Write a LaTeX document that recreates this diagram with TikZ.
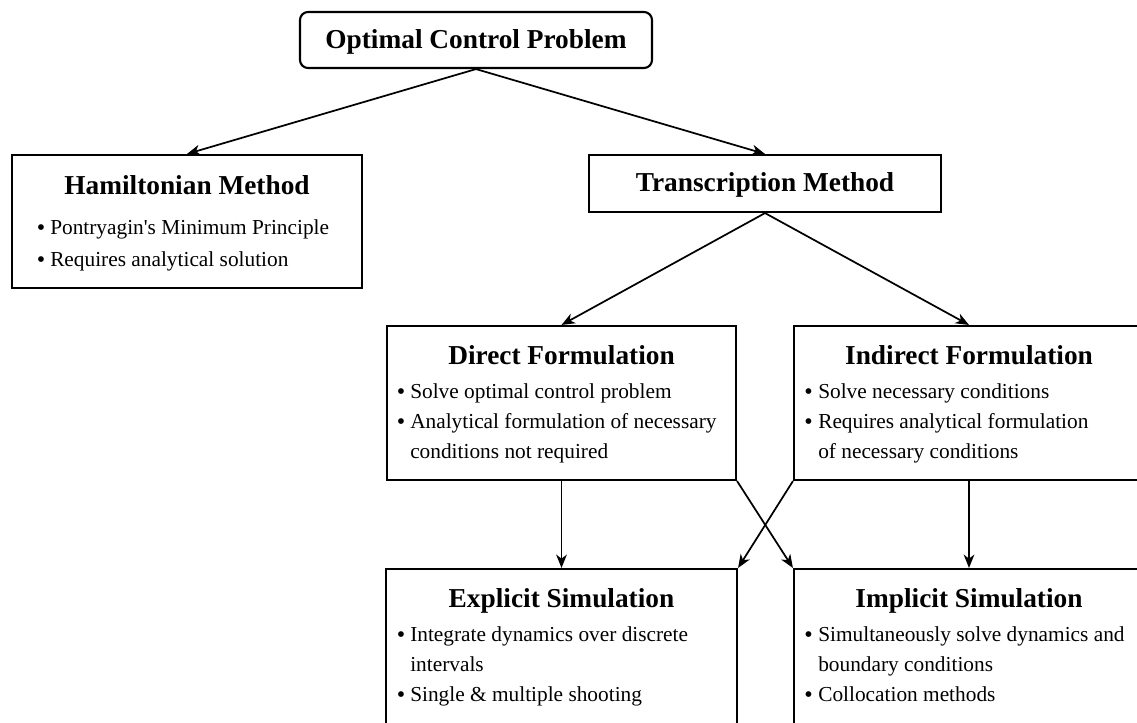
\documentclass[tikz,border=0pt]{standalone}
\usepackage{fontspec}
\setmainfont{Liberation Serif}[Ligatures=TeXOff]
\usetikzlibrary{arrows.meta,fit}
\tikzset{
  box/.style={draw, line width=1.6pt, inner sep=0pt},
  roundbox/.style={box, rounded corners=6pt},
  title/.style={font=\fontsize{20.5}{24}\selectfont\bfseries, inner sep=0pt, anchor=base},
  itemtext/.style={font=\fontsize{16}{20}\selectfont, inner sep=0pt, anchor=base west},
  dot/.style={font=\fontsize{18}{20}\selectfont, inner sep=0pt, anchor=base},
  link/.style={line width=1.3pt, -{Stealth[length=10pt,width=8pt,inset=3pt]}},
}
\begin{document}
\begin{tikzpicture}[x=0.75pt, y=-0.75pt]
\useasboundingbox[fill=white] (0,0) rectangle (1137,722);
\clip (0,0) rectangle (1137,722);

% root problem
\node[roundbox, fit={(300,12) (652,68)}] (ocp) {};
\node[title] (ocp-t) at (476,48) {Optimal Control Problem};

% Hamiltonian branch
\node[box, fit={(12,155) (362,288)}] (ham) {};
\node[title] (ham-t) at (187,194) {Hamiltonian Method};
\node[dot] (ham-b1) at (41,235) {\textbullet};
\node[itemtext] (ham-i1) at (50,234) {Pontryagin's Minimum Principle};
\node[dot] (ham-b2) at (41,267) {\textbullet};
\node[itemtext] (ham-i2) at (50,266) {Requires analytical solution};

% transcription branch
\node[box, fit={(589,155) (941,212)}] (trans) {};
\node[title] (trans-t) at (765,191) {Transcription Method};

% direct formulation
\node[box, fit={(387,326) (736,480)}] (dir) {};
\node[title] (dir-t) at (561.5,364) {Direct Formulation};
\node[dot] (dir-b1) at (401,399) {\textbullet};
\node[itemtext] (dir-i1) at (410,398) {Solve optimal control problem};
\node[dot] (dir-b2) at (401,429) {\textbullet};
\node[itemtext] (dir-i2) at (410,428) {Analytical formulation of necessary};
\node[itemtext] (dir-i3) at (410,458) {conditions not required};

% indirect formulation
\node[box, fit={(794,326) (1144,480)}] (ind) {};
\node[title] (ind-t) at (969,364) {Indirect Formulation};
\node[dot] (ind-b1) at (808.5,399) {\textbullet};
\node[itemtext] (ind-i1) at (818,398) {Solve necessary conditions};
\node[dot] (ind-b2) at (808.5,429) {\textbullet};
\node[itemtext] (ind-i2) at (818,428) {Requires analytical formulation};
\node[itemtext] (ind-i3) at (818,458) {of necessary conditions};

% explicit simulation
\node[box, fit={(386,569) (737,724)}] (exp) {};
\node[title] (exp-t) at (561.5,607) {Explicit Simulation};
\node[dot] (exp-b1) at (401,642) {\textbullet};
\node[itemtext] (exp-i1) at (410,641) {Integrate dynamics over discrete};
\node[itemtext] (exp-i2) at (410,671) {intervals};
\node[dot] (exp-b2) at (401,702) {\textbullet};
\node[itemtext] (exp-i3) at (410,701) {Single \& multiple shooting};

% implicit simulation
\node[box, fit={(794,569) (1144,724)}] (imp) {};
\node[title] (imp-t) at (969,607) {Implicit Simulation};
\node[dot] (imp-b1) at (808.5,642) {\textbullet};
\node[itemtext] (imp-i1) at (818,641) {Simultaneously solve dynamics and};
\node[itemtext] (imp-i2) at (818,671) {boundary conditions};
\node[dot] (imp-b2) at (808.5,702) {\textbullet};
\node[itemtext] (imp-i3) at (818,701) {Collocation methods};

% connectors
\draw[link] (ocp.south) -- (ham.north);
\draw[link] (ocp.south) -- (trans.north);
\draw[link] (trans.south) -- (dir.north);
\draw[link] (trans.south) -- (ind.north);
\draw[link] (dir.south) -- (exp.north);
\draw[link] (ind.south) -- (imp.north);
\draw[link] (dir.south east) -- (imp.north west);
\draw[link] (ind.south west) -- (exp.north east);
\end{tikzpicture}
\end{document}
